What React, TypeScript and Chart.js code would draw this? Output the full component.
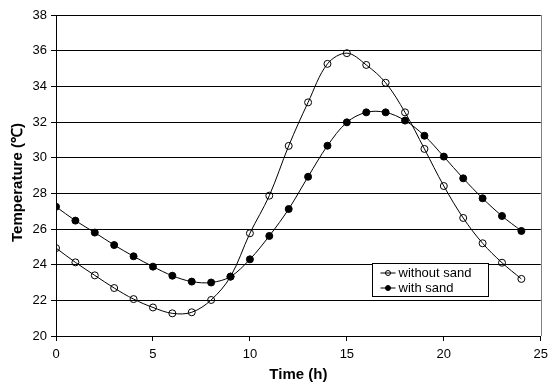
import React, { useEffect, useRef } from 'react';
import { Chart, registerables } from 'chart.js';

Chart.register(...registerables);

const hours = [0, 1, 2, 3, 4, 5, 6, 7, 8, 9, 10, 11, 12, 13, 14, 15, 16, 17, 18, 19, 20, 21, 22, 23, 24];
const withoutSand = [24.93, 24.13, 23.4, 22.69, 22.07, 21.6, 21.27, 21.33, 22.02, 23.33, 25.76, 27.87, 30.66, 33.1, 35.26, 35.86, 35.2, 34.2, 32.54, 30.49, 28.41, 26.62, 25.2, 24.11, 23.2];
const withSand = [27.25, 26.47, 25.8, 25.1, 24.47, 23.89, 23.38, 23.05, 23.0, 23.33, 24.3, 25.61, 27.12, 28.93, 30.67, 31.98, 32.54, 32.54, 32.08, 31.23, 30.06, 28.84, 27.72, 26.73, 25.89];
const seriesLabels = ['without sand', 'with sand'];
const xTitle = 'Time (h)';
const yTitle = 'Temperature (\u2103)';
const xMin = 0, xMax = 25, xStep = 5;
const yMin = 20, yMax = 38, yStep = 2;

const FONT = "'Liberation Sans', Arial, sans-serif";

const insideLegend = {
  id: 'insideLegend',
  afterDraw(chart: any) {
    const { ctx, chartArea } = chart;
    ctx.save();
    // right plot border
    ctx.strokeStyle = '#808080';
    ctx.lineWidth = 1;
    ctx.beginPath();
    ctx.moveTo(Math.round(chartArea.right) + 0.5, chartArea.top);
    ctx.lineTo(Math.round(chartArea.right) + 0.5, chartArea.bottom);
    ctx.stroke();

    // y-axis title
    ctx.save();
    ctx.translate(18, (chartArea.top + chartArea.bottom) / 2 + 7);
    ctx.rotate(-Math.PI / 2);
    ctx.font = `bold 15px ${FONT}`;
    ctx.fillStyle = '#000';
    ctx.textAlign = 'center';
    ctx.textBaseline = 'middle';
    ctx.fillText(yTitle, 0, 0);
    ctx.restore();

    const bx = Math.round(chartArea.left + 316) + 0.5;
    const by = Math.round(chartArea.top + 248) + 0.5;
    const bw = 116, bh = 33;
    ctx.fillStyle = '#fff';
    ctx.fillRect(bx, by, bw, bh);
    ctx.strokeStyle = '#000';
    ctx.strokeRect(bx, by, bw, bh);
    ctx.font = `13px ${FONT}`;
    ctx.textBaseline = 'middle';
    ctx.textAlign = 'left';
    chart.data.datasets.forEach((ds: any, i: number) => {
      const cy = by + 9.5 + i * 15;
      ctx.strokeStyle = '#000';
      ctx.lineWidth = 1;
      ctx.beginPath();
      ctx.moveTo(bx + 8, cy);
      ctx.lineTo(bx + 23, cy);
      ctx.stroke();
      ctx.beginPath();
      ctx.arc(bx + 15.5, cy, 2.5, 0, Math.PI * 2);
      ctx.fillStyle = ds.pointBackgroundColor;
      ctx.fill();
      ctx.stroke();
      ctx.fillStyle = '#000';
      ctx.fillText(ds.label, bx + 26, cy + 0.5);
    });
    ctx.restore();
  },
};

export default function App() {
  const ref = useRef<HTMLCanvasElement | null>(null);
  useEffect(() => {
    document.body.style.margin = '0';
    const canvas = ref.current;
    if (!canvas) return;
    const chart = new Chart(canvas, {
      type: 'line',
      data: {
        datasets: [
          {
            label: seriesLabels[0],
            data: hours.map((h, i) => ({ x: h, y: withoutSand[i] })),
            borderColor: '#000',
            borderWidth: 1,
            pointBackgroundColor: 'rgba(255,255,255,0)',
            pointBorderColor: '#000',
            pointBorderWidth: 1,
            pointRadius: 3.5,
            tension: 0.35,
            fill: false,
          },
          {
            label: seriesLabels[1],
            data: hours.map((h, i) => ({ x: h, y: withSand[i] })),
            borderColor: '#000',
            borderWidth: 1,
            pointBackgroundColor: '#000',
            pointBorderColor: '#000',
            pointBorderWidth: 1,
            pointRadius: 3.5,
            tension: 0.35,
            fill: false,
          },
        ],
      },
      options: {
        responsive: false,
        animation: false,
        events: [],
        layout: { padding: { top: 15, right: 7, left: 0, bottom: 0 } },
        plugins: {
          legend: { display: false },
          tooltip: { enabled: false },
        },
        scales: {
          x: {
            type: 'linear',
            min: xMin,
            max: xMax,
            afterFit: (s: any) => { s.height = 49; },
            ticks: {
              stepSize: xStep,
              color: '#000',
              font: { family: FONT, size: 13 },
              padding: 6,
              maxRotation: 0,
            },
            grid: { drawOnChartArea: false, drawTicks: true, tickLength: 5, color: '#000' },
            border: { display: true, color: '#000', width: 1 },
            title: {
              display: true,
              text: xTitle,
              color: '#000',
              font: { family: FONT, size: 15, weight: 'bold' },
              padding: { top: 0, bottom: 1 },
            },
          },
          y: {
            type: 'linear',
            min: yMin,
            max: yMax,
            afterFit: (s: any) => { s.width = 56; },
            ticks: {
              stepSize: yStep,
              color: '#000',
              font: { family: FONT, size: 13 },
              padding: 4,
            },
            grid: { drawOnChartArea: true, drawTicks: true, tickLength: 5, color: '#000' },
            border: { display: true, color: '#000', width: 1 },
            title: { display: false },
          },
        },
      },
      plugins: [insideLegend],
    } as any);
    return () => chart.destroy();
  }, []);
  return (
    <div style={{ position: 'relative', width: 554, height: 385 }}>
      <canvas ref={ref} width={554} height={385} style={{ display: 'block' }} />
    </div>
  );
}
